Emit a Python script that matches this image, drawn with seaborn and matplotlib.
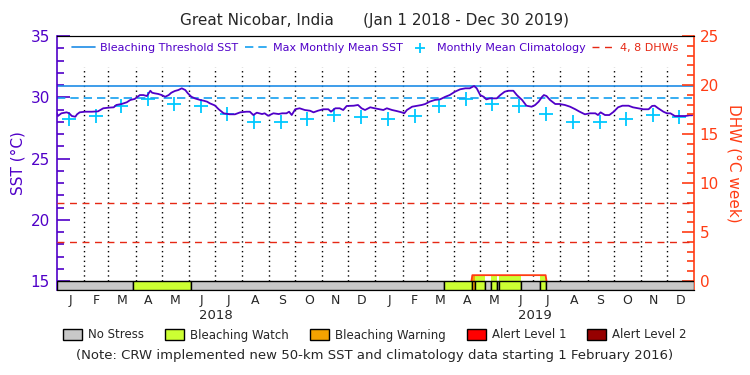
import numpy as np
import pandas as pd
import seaborn as sns
import matplotlib.pyplot as plt
from matplotlib.patches import Patch
from matplotlib.ticker import MultipleLocator

# SST: day offset from 1 Jan 2018, deg C
sst_day = [0, 1, 5, 11, 14, 17, 21, 23, 26, 32, 40, 47, 53, 59, 65, 68, 74, 80, 84, 89,
           95, 99, 103, 107, 109, 112, 116, 120, 124, 128, 131, 135, 139, 143, 147, 150,
           154, 158, 164, 168, 172, 175, 181, 185, 191, 198, 204, 210, 217, 221, 225, 229,
           235, 238, 242, 248, 254, 258, 263, 266, 269, 273, 278, 284, 290, 294, 299, 305,
           311, 314, 319, 324, 328, 332, 340, 345, 349, 353, 359, 364,
           370, 374, 378, 384, 389, 395, 398, 401, 407, 412, 418, 422, 427, 433, 439, 445,
           450, 456, 462, 468, 473, 478, 481, 485, 489, 492, 496, 500, 504, 508, 513, 517,
           523, 527, 533, 538, 544, 548, 552, 556, 558, 561, 565, 571, 576, 582, 588, 594,
           599, 605, 611, 617, 620, 623, 628, 633, 638, 643, 648, 655, 660, 666, 672, 678,
           682, 685, 689, 695, 699, 703, 708, 714, 720, 725, 728]
sst_c = [28.69, 28.47, 28.69, 28.77, 28.69, 28.47, 28.41, 28.61, 28.77, 28.82, 28.82, 28.85,
         29.10, 29.15, 29.18, 29.37, 29.45, 29.59, 29.78, 29.86,
         30.18, 30.18, 30.10, 30.53, 30.37, 30.32, 30.27, 30.18, 30.04, 30.18, 30.37, 30.51,
         30.59, 30.73, 30.59, 30.32, 30.04, 29.91, 29.78, 29.72, 29.64, 29.51, 29.33, 29.04,
         28.69, 28.61, 28.61, 28.77, 28.82, 28.82, 28.55, 28.74, 28.63, 28.69, 28.49, 28.69,
         28.63, 28.69, 28.69, 28.82, 28.55, 29.02, 29.10, 28.96, 28.90, 28.77, 28.90, 29.02,
         29.02, 28.82, 29.10, 29.10, 28.96, 29.29, 29.31, 29.37, 29.10, 28.96, 29.18, 29.10,
         29.02, 28.96, 29.10, 28.96, 28.88, 28.77, 28.69, 28.96, 29.23, 29.29, 29.37, 29.45,
         29.64, 29.78, 29.83, 30.04, 30.18, 30.45, 30.65, 30.73, 30.73, 30.92, 30.73, 30.18,
         30.04, 29.83, 29.91, 29.91, 29.91, 30.18, 30.45, 30.53, 30.53, 30.18, 29.78, 29.31,
         29.23, 29.37, 29.64, 30.04, 30.18, 30.10, 29.78, 29.45, 29.45, 29.37, 29.23, 29.02,
         28.82, 28.61, 28.69, 28.69, 28.55, 28.77, 28.55, 28.55, 28.82, 29.18, 29.31, 29.31,
         29.18, 29.10, 29.02, 29.02, 29.29, 29.31, 29.10, 28.82, 28.69, 28.69, 28.47, 28.47,
         28.47, 28.53, 28.53]

month_letters = ['J', 'F', 'M', 'A', 'M', 'J', 'J', 'A', 'S', 'O', 'N', 'D']
years = ['2018', '2019']
clim_sst = [28.25, 28.49, 29.31, 29.88, 29.42, 29.29, 28.61, 28.00, 27.96, 28.22, 28.53, 28.39]

mmm = 29.9
threshold = 30.9
dhw_levels = [4, 8]

dhw_day = [0, 475, 476, 560, 561, 728]
dhw_val = [0, 0, 0.6, 0.6, 0, 0]

status_start = [0, 87, 154, 444, 476, 479, 490, 497, 504, 506, 532, 554, 560]
status_end = [87, 154, 444, 476, 479, 490, 497, 504, 506, 532, 554, 560, 730]
status_level = [0, 1, 0, 1, 2, 1, 0, 1, 0, 1, 0, 1, 0]
status_names = ['No Stress', 'Bleaching Watch', 'Bleaching Warning', 'Alert Level 1', 'Alert Level 2']
status_colors = ['#c8c8c8', '#ccff33', '#f5a300', '#ff0000', '#960000']

PURPLE = '#5000c8'
BLUE = '#1e8ce6'
LBLUE = '#14a0f0'
CYAN = '#00c8ff'
RED = '#e62814'
ORANGE = '#ff3c14'

sns.set_style('white')
plt.rcParams['font.family'] = ['DejaVu Sans']

t0 = pd.Timestamp('2018-01-01')
month_start = pd.date_range('2018-01-01', '2020-01-01', freq='MS')
ms_day = np.array((month_start - t0).days, dtype=float)
month_mid = (ms_day[:-1] + ms_day[1:]) / 2
clim_day = np.array((month_start[:-1] + pd.Timedelta(days=14) - t0).days, dtype=float)

sst_lo, sst_hi = 14.27, 35
dhw_lo, dhw_hi = (sst_lo - 15) * 1.25, 25

fig = plt.figure(figsize=(7.5, 3.75), dpi=100)
ax = fig.add_axes([0.076, 0.2267, 0.8493, 0.6773])
ax2 = ax.twinx()

# month grid
ax.vlines(ms_day[1:-1], 15, 32.5, colors='black', linestyles=(0, (1, 2.5)), lw=1)

h_thr = ax.axhline(threshold, color=BLUE, lw=1.2)
h_mmm = ax.axhline(mmm, color=LBLUE, lw=1.2, ls=(0, (5, 3)))
sns.lineplot(x=sst_day, y=sst_c, ax=ax, color=PURPLE, lw=1.3)
sns.scatterplot(x=clim_day, y=clim_sst * 2, ax=ax, marker='+', s=90, color=CYAN, linewidth=1.3)
h_clim = ax.collections[-1]

for lv in dhw_levels:
    h_dhw = ax2.axhline(lv, color=RED, lw=1, ls=(0, (5, 4)))

# DHW curve (only where it leaves zero) with status fill under it
dv = np.array(dhw_val, dtype=float)
near = (dv > 0) | (np.r_[dv[1:], 0] > 0) | (np.r_[0, dv[:-1]] > 0)
ax2.plot(dhw_day, np.where(near, dv, np.nan), color=ORANGE, lw=1.3, zorder=2)
for s, e, lv in zip(status_start, status_end, status_level):
    if lv > 0:
        xs = np.arange(s, e + 1, dtype=float)
        ys = np.interp(xs, dhw_day, dhw_val)
        ax2.fill_between(xs, 0, ys, color=status_colors[lv], lw=0, zorder=1)
    ax2.bar(s, -dhw_lo, bottom=dhw_lo, width=e - s, align='edge',
            color=status_colors[lv], edgecolor='black', lw=1, zorder=3)

ax.set_xlim(0, 730)
ax.set_ylim(sst_lo, sst_hi)
ax2.set_ylim(dhw_lo, dhw_hi)

ax.set_xticks(month_mid, labels=month_letters * 2)
ax.tick_params(axis='x', length=0, pad=3, labelsize=9)
for i, yr in enumerate(years):
    ax.text(ms_day[12 * i] + 182.5, -0.1, yr, transform=ax.get_xaxis_transform(),
            ha='center', va='center', fontsize=9.5)

ax.set_yticks([15, 20, 25, 30, 35])
ax.yaxis.set_minor_locator(MultipleLocator(1))
ax.tick_params(axis='y', which='both', direction='in', colors=PURPLE, labelcolor=PURPLE,
               labelsize=11, pad=5)
ax.tick_params(axis='y', which='major', length=9, width=1.2)
ax.tick_params(axis='y', which='minor', length=5, width=1.2)
ax.set_ylabel('SST (°C)', color=PURPLE, fontsize=11, labelpad=4)
ax.set_xlabel('')

ax2.set_yticks([0, 5, 10, 15, 20, 25])
ax2.yaxis.set_minor_locator(MultipleLocator(1))
ax2.tick_params(axis='y', which='both', direction='in', colors=ORANGE, labelcolor=ORANGE,
                labelsize=11, pad=4)
ax2.tick_params(axis='y', which='major', length=9, width=1.2)
ax2.tick_params(axis='y', which='minor', length=5, width=1.2)
ax2.set_ylabel('DHW (°C week)', color=ORANGE, fontsize=11, rotation=270, labelpad=16)

for a in (ax, ax2):
    a.spines['top'].set_color('black')
    a.spines['bottom'].set_color('black')
ax.spines['left'].set_color(PURPLE)
ax.spines['left'].set_linewidth(1.2)
ax2.spines['left'].set_visible(False)
ax2.spines['right'].set_color(ORANGE)
ax2.spines['right'].set_linewidth(1.2)
ax.spines['right'].set_visible(False)

# legend inside the plot
ax2.legend([h_thr, h_mmm, h_clim, h_dhw],
           ['Bleaching Threshold SST', 'Max Monthly Mean SST', 'Monthly Mean Climatology', '4, 8 DHWs'],
           loc='center', bbox_to_anchor=(0.5, 0.953), ncol=4, frameon=False, fontsize=8,
           labelcolor=[PURPLE, PURPLE, PURPLE, RED], handlelength=2.0, handletextpad=0.5,
           columnspacing=0.6, markerscale=0.8)

fig.text(0.5, 1 - 21 / 375, 'Great Nicobar, India      (Jan 1 2018 - Dec 30 2019)',
         ha='center', va='center', fontsize=11)

fig.legend(handles=[Patch(facecolor=c, edgecolor='black', label=n)
                    for c, n in zip(status_colors, status_names)],
           loc='center', bbox_to_anchor=(0.5, 1 - 335 / 375), ncol=5, frameon=False,
           fontsize=8.5, handlelength=1.6, handleheight=1.1, handletextpad=0.5,
           columnspacing=1.8)
fig.text(0.5, 1 - 355 / 375,
         '(Note: CRW implemented new 50-km SST and climatology data starting 1 February 2016)',
         ha='center', va='center', fontsize=9.5)

fig.savefig('out.png', dpi=100)
